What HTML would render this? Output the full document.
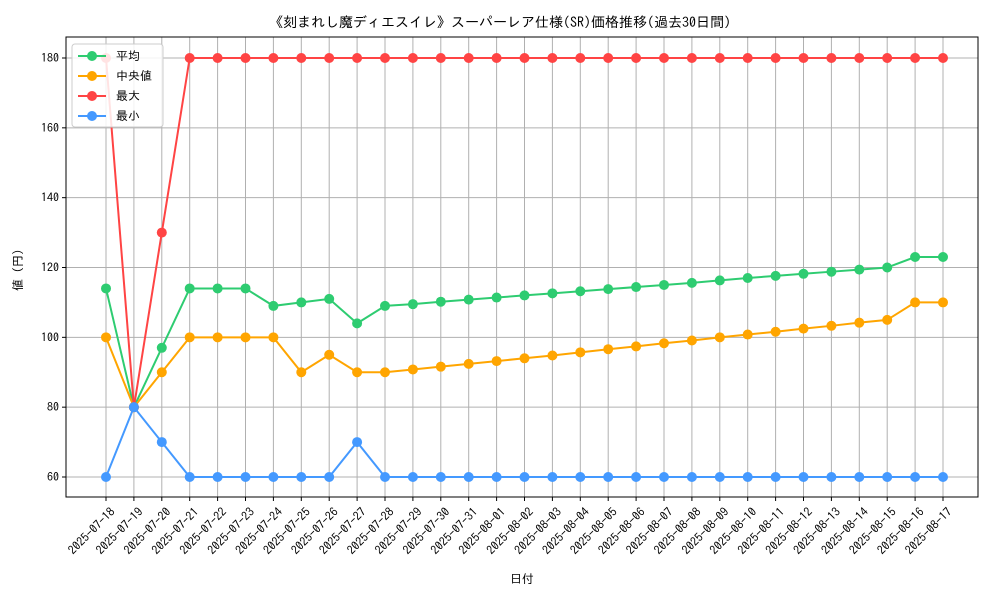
<!DOCTYPE html>
<html><head><meta charset="utf-8"><style>
body{margin:0;background:#fff;font-family:"IPAGothic","Noto Sans CJK JP",sans-serif}
</style></head><body>
<svg id="chart" width="1000" height="600" xmlns="http://www.w3.org/2000/svg" font-family="'IPAGothic','Noto Sans CJK JP',sans-serif">
<rect width="1000" height="600" fill="#fff"/>
<text x="500" y="27" text-anchor="middle" font-size="14" fill="#000">《刻まれし魔ディエスイレ》スーパーレア仕様(SR)価格推移(過去30日間)</text>
<g id="grid"></g>
<g id="axes"></g>
<g id="series"></g>
<text x="522" y="583" text-anchor="middle" font-size="12">日付</text>
<text transform="translate(22,267) rotate(-90)" text-anchor="middle" font-size="12">値（円）</text>
<g id="legend"></g>
</svg>
<script>
const dates=["2025-07-18","2025-07-19","2025-07-20","2025-07-21","2025-07-22","2025-07-23","2025-07-24","2025-07-25","2025-07-26","2025-07-27","2025-07-28","2025-07-29","2025-07-30","2025-07-31","2025-08-01","2025-08-02","2025-08-03","2025-08-04","2025-08-05","2025-08-06","2025-08-07","2025-08-08","2025-08-09","2025-08-10","2025-08-11","2025-08-12","2025-08-13","2025-08-14","2025-08-15","2025-08-16","2025-08-17"];
const meanVals=[114,80,97,114,114,114,109,110,111,104,109,109.5,110.2,110.8,111.4,112,112.6,113.2,113.8,114.4,115,115.6,116.3,117,117.6,118.2,118.8,119.4,120,123,123];
const medianVals=[100,80,90,100,100,100,100,90,95,90,90,90.8,91.6,92.4,93.2,94,94.8,95.7,96.6,97.4,98.3,99.1,100,100.8,101.6,102.5,103.3,104.2,105,110,110];
const maxVals=[180,80,130,180,180,180,180,180,180,180,180,180,180,180,180,180,180,180,180,180,180,180,180,180,180,180,180,180,180,180,180];
const minVals=[60,80,70,60,60,60,60,60,60,70,60,60,60,60,60,60,60,60,60,60,60,60,60,60,60,60,60,60,60,60,60];
const yTicks=[60,80,100,120,140,160,180];
const NS="http://www.w3.org/2000/svg";
const L=66,R=978,T=37,B=497;
const x=i=>106+i*(943-106)/(dates.length-1);
const y=v=>477-(v-60)*(477-58)/120;
function mk(tag,attrs,parent){const e=document.createElementNS(NS,tag);for(const k in attrs)e.setAttribute(k,attrs[k]);parent.appendChild(e);return e;}
const grid=document.getElementById('grid'),axes=document.getElementById('axes'),ser=document.getElementById('series'),leg=document.getElementById('legend');
dates.forEach((d,i)=>{
 const g=mk('line',{x1:x(i),x2:x(i),y1:T,y2:B,stroke:'#b0b0b0','stroke-width':1},grid);
 
 
 mk('line',{x1:x(i),x2:x(i),y1:B,y2:B+4,stroke:'#000'},axes);
 const t=mk('text',{transform:`translate(${x(i)+4},${B+10}) rotate(-45)`,'text-anchor':'end','font-size':'12','dominant-baseline':'hanging'},axes);
 t.textContent=d;
 
 
});
yTicks.forEach(v=>{
 const g=mk('line',{x1:L,x2:R,y1:y(v),y2:y(v),stroke:'#b0b0b0','stroke-width':1},grid);
 
 
 mk('line',{x1:L-4,x2:L,y1:y(v),y2:y(v),stroke:'#000'},axes);
 const t=mk('text',{x:L-7,y:y(v)+4,'text-anchor':'end','font-size':'12'},axes);
 t.textContent=v;
 
 
});
const frame=mk('rect',{x:L,y:T,width:R-L,height:B-T,fill:'none',stroke:'#000','stroke-width':1},axes);


const series=[["平均",meanVals,"#2ecc71","mean"],["中央値",medianVals,"#ffa500","median"],["最大",maxVals,"#ff4444","max"],["最小",minVals,"#4499ff","min"]];
series.forEach(([name,vals,col,key])=>{
 const p=mk('polyline',{points:vals.map((v,i)=>x(i)+','+y(v)).join(' '),fill:'none',stroke:col,'stroke-width':2},ser);
 
 
 vals.forEach((v,i)=>{
  const c=mk('circle',{cx:x(i),cy:y(v),r:5,fill:col},ser);
  
  
 });
});
const lb=mk('rect',{x:72,y:44,width:91,height:83,fill:'#fff','fill-opacity':0.85,stroke:'#ccc',rx:3},leg);


series.forEach(([name,vals,col,key],k)=>{
 const yy=56+k*20;
 const g=mk('g',{},leg);
 
 
 mk('line',{x1:78,x2:106,y1:yy,y2:yy,stroke:col,'stroke-width':2},g);
 mk('circle',{cx:92,cy:yy,r:5,fill:col},g);
 const t=mk('text',{x:116,y:yy+4,'font-size':'12'},g);
 t.textContent=name;
});
</script>
</body></html>
